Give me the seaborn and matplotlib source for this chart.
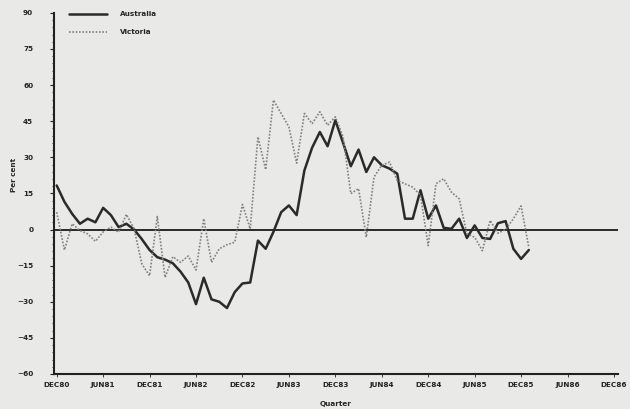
import pandas as pd
import matplotlib
matplotlib.use('Agg')
import matplotlib.pyplot as plt
from matplotlib.ticker import MultipleLocator
import seaborn as sns

# Monthly annual % change, Dec 1980 .. Jan 1986
australia = [18.3, 11.5, 6.5, 2.4, 4.5, 3.0, 9.0, 6.0, 1.0, 2.4,
             0.0, -4.0, -8.5, -11.5, -12.5, -14.0, -17.5, -22.0, -31.0, -20.0,
             -29.0, -30.0, -32.6, -26.0, -22.4, -22.0, -4.6, -8.0, -1.0, 7.2,
             10.0, 6.0, 24.5, 34.0, 40.5, 34.6, 45.4, 36.0, 26.3, 33.2,
             23.9, 30.0, 26.7, 25.3, 23.2, 4.5, 4.5, 16.3, 4.5, 10.0,
             0.7, 0.3, 4.5, -3.5, 1.7, -3.5, -3.9, 2.6, 3.5, -8.0,
             -12.2, -8.5]
victoria = [7.2, -8.5, 2.4, -0.4, -1.8, -4.9, -1.0, 1.0, -1.1, 6.3,
            0.3, -14.3, -19.2, 5.4, -19.9, -11.3, -13.6, -11.0, -16.8, 4.5,
            -13.6, -8.0, -6.3, -5.3, 10.4, 0.3, 38.5, 24.9, 53.8, 48.2,
            42.6, 27.6, 48.2, 44.0, 48.9, 43.3, 46.8, 38.5, 14.9, 17.0,
            -3.2, 21.8, 26.7, 28.0, 20.4, 19.0, 17.6, 14.2, -6.7, 19.0,
            21.1, 15.5, 12.8, -1.8, -3.2, -8.8, 3.8, -1.5, 0.0, 4.5,
            9.8, -7.4]
tick_labels = ['DEC80', 'JUN81', 'DEC81', 'JUN82', 'DEC82', 'JUN83', 'DEC83',
               'JUN84', 'DEC84', 'JUN85', 'DEC85', 'JUN86', 'DEC86']

df = pd.DataFrame({
    'month': list(range(len(australia))) * 2,
    'value': australia + victoria,
    'series': ['Australia'] * len(australia) + ['Victoria'] * len(victoria),
})

bg = '#e9e9e7'
sns.set_style('ticks')
plt.rcParams['font.family'] = ['DejaVu Sans']

fig = plt.figure(figsize=(6.3, 4.09), dpi=100, facecolor=bg)
ax = fig.add_axes([0.0857, 0.0856, 0.895, 0.883], facecolor=bg)

sns.lineplot(data=df[df.series == 'Australia'], x='month', y='value',
             color='#2a2a2a', linewidth=1.8, label='Australia', ax=ax)
sns.lineplot(data=df[df.series == 'Victoria'], x='month', y='value',
             color='#808080', linewidth=1.2, linestyle=(0, (1, 1)),
             label='Victoria', ax=ax)

ax.axhline(0, color='#1a1a1a', linewidth=1.3, zorder=1)

ax.set_xlim(-0.35, 72.5)
ax.set_ylim(-60, 90)
ax.set_xticks(range(0, 73, 6))
ax.set_xticklabels(tick_labels)
ax.set_yticks(range(-60, 91, 15))
ax.yaxis.set_minor_locator(MultipleLocator(3))

for side in ['top', 'right']:
    ax.spines[side].set_visible(False)
ax.spines['left'].set_linewidth(1.5)
ax.spines['bottom'].set_linewidth(1.5)
ax.spines['left'].set_color('#222222')
ax.spines['bottom'].set_color('#222222')

ax.tick_params(axis='x', length=2, width=0.6, pad=4, labelsize=5.2,
               colors='#222222')
ax.tick_params(axis='y', which='major', length=3, width=0.8, pad=12,
               labelsize=5.2, colors='#222222')
ax.tick_params(axis='y', which='minor', length=1.5, width=0.6,
               colors='#333333')
for lbl in ax.get_xticklabels() + ax.get_yticklabels():
    lbl.set_fontweight('bold')

ax.set_xlabel('Quarter', fontsize=5.2, fontweight='bold')
ax.set_ylabel('Per cent', fontsize=5.2, fontweight='bold')
ax.xaxis.set_label_coords(0.5, -0.075)
ax.yaxis.set_label_coords(-0.066, 0.55)

leg = ax.legend(loc='upper left', bbox_to_anchor=(0.015, 1.022), frameon=False,
                fontsize=5.2, handlelength=5.3, handletextpad=1.8,
                labelspacing=1.6)
for txt in leg.get_texts():
    txt.set_fontweight('bold')

fig.savefig('out.png', dpi=100, facecolor=bg)
